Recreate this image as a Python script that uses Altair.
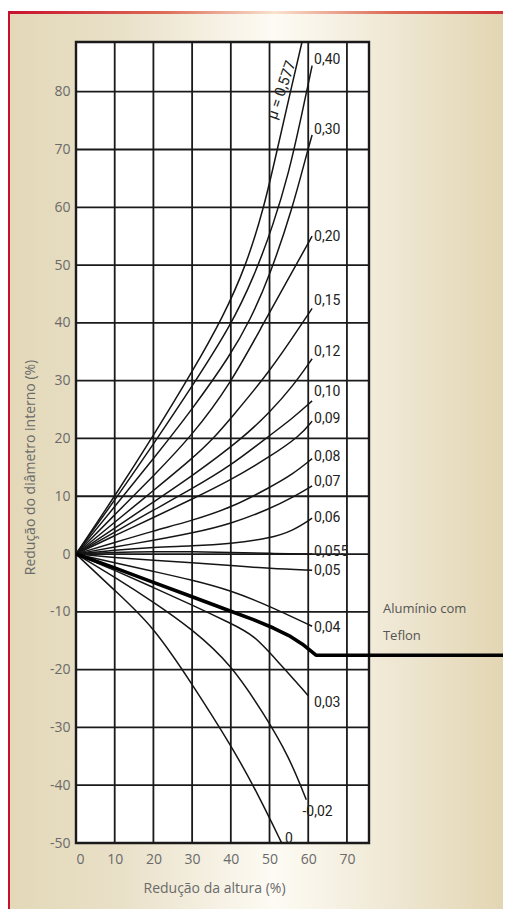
import altair as alt
import pandas as pd

# ---------------- data ----------------
x_ticks = [0, 10, 20, 30, 40, 50, 60, 70]
y_ticks = [-50, -40, -30, -20, -10, 0, 10, 20, 30, 40, 50, 60, 70, 80]
grid_x = [10, 20, 30, 40, 50, 60, 70]
grid_y = [-40, -30, -20, -10, 0, 10, 20, 30, 40, 50, 60, 70, 80]

mu_0577_x = [0, 10, 20, 30, 38, 44, 48.6, 52, 55.4, 58.7, 59.6]
mu_0577_y = [0, 10, 20.5, 31.5, 41, 50, 60, 70, 80, 89.5, 92]
mu_040_x = [0, 10, 20, 30, 40, 46, 51, 55, 58, 61]
mu_040_y = [0, 9.3, 19, 29, 39.5, 48, 57, 66, 75, 84.5]
mu_030_x = [0, 10, 20, 30, 40, 45, 50, 56, 59.5, 61]
mu_030_y = [0, 8.2, 16.5, 25, 34.5, 40.5, 48, 60, 69, 72.5]
mu_020_x = [0, 10, 20, 30, 40, 48.5, 55, 61]
mu_020_y = [0, 6.8, 13.5, 20.5, 29.5, 40, 47.8, 55]
mu_015_x = [0, 10, 20, 30, 35.5, 40, 50, 58.5, 61]
mu_015_y = [0, 5.5, 11, 16.5, 20, 23.5, 31.5, 40, 42.5]
mu_012_x = [0, 10, 20, 30, 43, 50, 56, 61]
mu_012_y = [0, 4.5, 9, 13.5, 20, 24.5, 29, 33.8]
mu_010_x = [0, 10, 20, 30, 40, 49, 56, 61]
mu_010_y = [0, 3.8, 7.6, 11.3, 15.3, 20, 23.5, 26.5]
mu_009_x = [0, 10, 20, 30, 40, 50, 58, 61]
mu_009_y = [0, 3.2, 6.3, 9.5, 12.8, 16.8, 20.5, 23]
mu_008_x = [0, 10, 20, 30, 40, 50, 56, 61]
mu_008_y = [0, 2, 4, 5.8, 8, 11.5, 13.8, 16.5]
mu_007_x = [0, 10, 20, 30, 40, 50, 56, 61]
mu_007_y = [0, 1.2, 2.4, 3.6, 5.2, 7.8, 9.8, 11.8]
mu_006_x = [0, 10, 20, 30, 40, 50, 56, 61]
mu_006_y = [0, 0.7, 1.2, 1.4, 1.8, 2.7, 4, 6.2]
mu_0055_x = [0, 10, 20, 30, 40, 50, 61]
mu_0055_y = [0, 0.3, 0.4, 0.4, 0.3, 0.1, 0]
mu_005_x = [0, 10, 20, 30, 40, 50, 61]
mu_005_y = [0, -0.6, -1.1, -1.5, -2, -2.5, -2.8]
mu_004_x = [0, 10, 20, 30, 40, 50, 61]
mu_004_y = [0, -1.5, -3, -4.5, -6.3, -9, -12.5]
mu_003_x = [0, 10, 20, 30, 40, 46, 52, 60]
mu_003_y = [0, -2.8, -5.8, -8.8, -12, -14, -18.5, -24.5]
mu_002_x = [0, 10, 20, 30, 40, 48.7, 55, 59.5]
mu_002_y = [0, -4, -8.3, -13, -19, -27.8, -35, -42.5]
mu_000_x = [0, 10, 20, 30, 40, 47, 53.5]
mu_000_y = [0, -6.3, -12.5, -22.5, -33, -41.5, -50.5]

teflon_x = [0, 10, 20, 30, 40, 46, 51, 55, 58.5, 62, 113]
teflon_y = [0, -2.4, -4.9, -7.4, -9.9, -11.4, -12.8, -14.1, -15.6, -17.5, -17.5]

curve_labels = ["0,40", "0,30", "0,20", "0,15", "0,12", "0,10", "0,09", "0,08",
                "0,07", "0,06", "0,055", "0,05", "0,04", "0,03", "-0,02", "0"]
label_x = [61.5, 61.5, 61.5, 61.5, 61.5, 61.5, 61.5, 61.5,
           61.5, 61.5, 61.5, 61.5, 61.5, 61.5, 58.5, 54]
label_y = [85.5, 73.4, 54.9, 43.7, 35, 28, 23.3, 16.8,
           12.4, 6.3, 0.3, -3, -12.8, -25.7, -44.6, -49.3]

mu_label = ["μ = 0,577"]
mu_label_x = [53]
mu_label_y = [80.3]

teflon_text = ["Alumínio com", "Teflon"]
teflon_text_x = [79.3, 79.3]
teflon_text_y = [-9.5, -14.2]

# ---------------- tables ----------------
curves = [
    ("0.577", mu_0577_x, mu_0577_y), ("0.40", mu_040_x, mu_040_y),
    ("0.30", mu_030_x, mu_030_y), ("0.20", mu_020_x, mu_020_y),
    ("0.15", mu_015_x, mu_015_y), ("0.12", mu_012_x, mu_012_y),
    ("0.10", mu_010_x, mu_010_y), ("0.09", mu_009_x, mu_009_y),
    ("0.08", mu_008_x, mu_008_y), ("0.07", mu_007_x, mu_007_y),
    ("0.06", mu_006_x, mu_006_y), ("0.055", mu_0055_x, mu_0055_y),
    ("0.05", mu_005_x, mu_005_y), ("0.04", mu_004_x, mu_004_y),
    ("0.03", mu_003_x, mu_003_y), ("0.02", mu_002_x, mu_002_y),
    ("0", mu_000_x, mu_000_y),
]
rows = []
for name, xs_, ys_ in curves:
    for i, (a, b) in enumerate(zip(xs_, ys_)):
        rows.append({"mu": name, "i": i, "x": a, "y": b})
curve_df = pd.DataFrame(rows)
teflon_df = pd.DataFrame({"x": teflon_x, "y": teflon_y, "i": range(len(teflon_x))})
labels_df = pd.DataFrame({"x": label_x, "y": label_y, "t": curve_labels})
mu_df = pd.DataFrame({"x": mu_label_x, "y": mu_label_y, "t": mu_label})
tef_lab_df = pd.DataFrame({"x": teflon_text_x, "y": teflon_text_y, "t": teflon_text})
gx_df = pd.DataFrame({"x": grid_x})
gy_df = pd.DataFrame({"y": grid_y})

# ---------------- layout ----------------
W, H = 293, 801
FONT = "Open Sans"
LAB = "Roboto"
GREY = "#6a6a6a"

x_axis = alt.Axis(values=x_ticks, grid=False, ticks=False, tickSize=0, domain=False,
                  labelFont=FONT, labelFontSize=14, labelColor=GREY, labelPadding=9,
                  labelExpr="'' + datum.value",
                  title="Redução da altura (%)", titleFont=FONT, titleFontSize=14,
                  titleFontWeight="normal", titleColor=GREY,
                  titleX=138, titleY=45, titleBaseline="middle", titleAlign="center",
                  zindex=1)
y_axis = alt.Axis(values=y_ticks, grid=False, ticks=False, tickSize=0, domain=False,
                  labelFont=FONT, labelFontSize=14, labelColor=GREY, labelPadding=6,
                  labelExpr="'' + datum.value",
                  title="Redução do diâmetro interno (%)", titleFont=FONT, titleFontSize=14,
                  titleFontWeight="normal", titleColor=GREY, titleAngle=270,
                  titleX=-46, titleY=425, titleBaseline="middle", titleAlign="center",
                  zindex=1)

xs = alt.Scale(domain=[0, 75.7], nice=False, zero=False)
ys = alt.Scale(domain=[-50, 88.6], nice=False, zero=False)
X = alt.X("x:Q", scale=xs, axis=x_axis)
Y = alt.Y("y:Q", scale=ys, axis=y_axis)

bg_fill = alt.Gradient(
    gradient="linear", x1=0, x2=1, y1=0, y2=0,
    stops=[alt.GradientStop(color="#e3d8b8", offset=0),
           alt.GradientStop(color="#e9e0c8", offset=0.22),
           alt.GradientStop(color="#fdfbf4", offset=0.52),
           alt.GradientStop(color="#ede5cf", offset=0.78),
           alt.GradientStop(color="#e1d3ae", offset=1)])
bg_stroke = alt.Gradient(
    gradient="linear", x1=0, x2=1, y1=0, y2=0,
    stops=[alt.GradientStop(color="#c8102e", offset=0),
           alt.GradientStop(color="#dc6a55", offset=0.3),
           alt.GradientStop(color="#f9e2cf", offset=0.52),
           alt.GradientStop(color="#dc6a55", offset=0.75),
           alt.GradientStop(color="#cc2a30", offset=1)])

background = alt.Chart().mark_rect(fill=bg_fill, stroke=bg_stroke, strokeWidth=3, clip=False).encode(
    x=alt.value(-67.5), x2=alt.value(444), y=alt.value(-29.5), y2=alt.value(900))
plot_bg = alt.Chart().mark_rect(fill="white", stroke="#1a1a1a", strokeWidth=2.4).encode(
    x=alt.value(0), x2=alt.value(W), y=alt.value(0), y2=alt.value(H))

vgrid = alt.Chart(gx_df).mark_rule(color="#1a1a1a", strokeWidth=1.8).encode(x=X)
hgrid = alt.Chart(gy_df).mark_rule(color="#1a1a1a", strokeWidth=1.8).encode(y=Y)

lines = alt.Chart(curve_df).mark_line(color="#151515", strokeWidth=1.5,
                                      interpolate="basis", clip=True).encode(
    x=X, y=Y, detail="mu:N", order="i:Q")
teflon = alt.Chart(teflon_df).mark_line(color="#000000", strokeWidth=3.6, clip=False,
                                        interpolate="linear", strokeJoin="round").encode(
    x=X, y=Y, order="i:Q")

labels = alt.Chart(labels_df).mark_text(align="left", baseline="middle", font=LAB,
                                        fontSize=14, color="#222222").encode(
    x=X, y=Y, text="t:N")
mu_text = alt.Chart(mu_df).mark_text(align="center", baseline="middle", font=LAB,
                                     fontSize=15, color="#222222", angle=289).encode(
    x=X, y=Y, text="t:N")
tef_text = alt.Chart(tef_lab_df).mark_text(align="left", baseline="middle", font=FONT,
                                           fontSize=13, color="#555555", clip=False).encode(
    x=X, y=Y, text="t:N")

chart = alt.layer(background, plot_bg, vgrid, hgrid, lines, teflon, labels, mu_text, tef_text).properties(
    width=W, height=H,
    autosize=alt.AutoSizeParams(type="none"),
    padding={"left": 68, "top": 34, "right": 134, "bottom": 66},
).configure_view(stroke=None).configure(background="white")

chart.save("out.html", embed_options={"renderer": "svg", "actions": False})
